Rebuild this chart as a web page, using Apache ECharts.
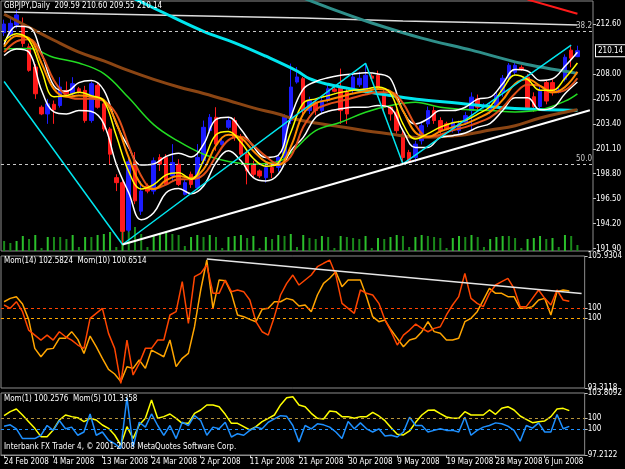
<!DOCTYPE html>
<html><head><meta charset="utf-8">
<script src="https://cdn.jsdelivr.net/npm/echarts@6/dist/echarts.min.js"></script>
<style>html,body{margin:0;padding:0;background:#000;}#c{width:625px;height:469px;}</style>
</head><body><div id="c"></div>
<script>
// ---------- DATA ----------
const dates = ['24 Feb 2008','25 Feb 2008','26 Feb 2008','27 Feb 2008','28 Feb 2008','29 Feb 2008','2 Mar 2008','3 Mar 2008','4 Mar 2008','5 Mar 2008','6 Mar 2008','7 Mar 2008','9 Mar 2008','10 Mar 2008','11 Mar 2008','12 Mar 2008','13 Mar 2008','14 Mar 2008','16 Mar 2008','17 Mar 2008','18 Mar 2008','19 Mar 2008','20 Mar 2008','23 Mar 2008','24 Mar 2008','25 Mar 2008','26 Mar 2008','27 Mar 2008','28 Mar 2008','30 Mar 2008','31 Mar 2008','1 Apr 2008','2 Apr 2008','3 Apr 2008','4 Apr 2008','6 Apr 2008','7 Apr 2008','8 Apr 2008','9 Apr 2008','10 Apr 2008','11 Apr 2008','13 Apr 2008','14 Apr 2008','15 Apr 2008','16 Apr 2008','17 Apr 2008','18 Apr 2008','20 Apr 2008','21 Apr 2008','22 Apr 2008','23 Apr 2008','24 Apr 2008','25 Apr 2008','27 Apr 2008','28 Apr 2008','29 Apr 2008','30 Apr 2008','1 May 2008','2 May 2008','4 May 2008','5 May 2008','6 May 2008','7 May 2008','8 May 2008','9 May 2008','11 May 2008','12 May 2008','13 May 2008','14 May 2008','15 May 2008','16 May 2008','18 May 2008','19 May 2008','20 May 2008','21 May 2008','22 May 2008','23 May 2008','25 May 2008','26 May 2008','27 May 2008','28 May 2008','29 May 2008','30 May 2008','1 Jun 2008','2 Jun 2008','3 Jun 2008','4 Jun 2008','5 Jun 2008','6 Jun 2008','8 Jun 2008','9 Jun 2008','10 Jun 2008','11 Jun 2008'];

// [open, close, low, high]
const ohlc = [
[211.8,212.6,211.5,213.0],[211.58,212.66,211.27,213.28],[212.51,213.44,212.2,213.9],[212.51,210.81,210.5,213.2],[210.5,208.33,208.2,210.8],
[208.64,206.17,205.7,208.9],[204.93,204.31,204.2,205.1],[204.31,205.24,203.4,205.7],[205.2,204.7,203.4,205.55],[205.09,206.79,204.9,207.7],
[206.48,206.17,205.9,207.3],[206.17,207.10,206.0,207.7],[206.63,206.33,206.2,206.8],[206.48,203.70,203.5,206.9],[203.70,207.10,203.5,207.3],
[206.94,204.93,204.8,207.25],[205.24,202.92,202.7,205.4],[202.92,200.60,199.68,203.1],[198.44,197.98,197.2,198.75],[197.98,193.49,192.3,198.2],
[193.6,199.9,193.4,200.3],[199.9,196.3,196.0,200.8],[195.35,197.20,195.0,198.1],[197.67,197.20,197.0,197.9],[197.20,199.99,196.9,200.3],
[200.3,199.68,199.06,200.6],[200.3,197.82,197.8,200.6],[198.6,199.84,198.13,201.53],[199.68,197.82,197.67,200.14],[196.9,197.98,196.8,198.3],
[198.75,197.82,197.5,199.0],[197.51,200.3,197.36,201.53],[200.0,203.08,199.68,203.7],[202.77,204.0,202.5,204.3],[204.0,201.53,200.91,204.93],
[201.5,201.8,201.4,202.0],[203.08,203.70,202.9,204.0],[203.70,202.15,201.84,204.0],[202.15,200.6,200.3,202.46],[200.6,199.06,197.82,200.91],
[199.68,198.75,198.4,200.0],[199.06,198.6,198.4,199.2],[198.44,199.37,197.98,199.68],[199.37,198.9,198.4,199.8],[199.37,200.3,199.0,200.6],
[200.3,204.0,200.0,204.3],[203.7,206.79,203.39,208.95],[207.25,207.72,207.1,208.64],[207.56,204.62,204.3,207.72],[204.62,205.55,204.3,205.9],
[205.4,204.62,204.2,205.7],[204.62,205.55,204.4,205.9],[205.55,206.63,205.4,207.0],[206.6,206.4,206.3,206.8],[206.79,204.62,203.39,208.49],
[206.3,204.31,203.39,206.8],[206.48,207.72,206.2,208.1],[207.0,207.6,206.8,208.2],[206.48,207.87,206.2,209.0],[207.8,207.6,207.4,208.0],
[207.87,206.79,206.5,208.3],[206.17,204.93,204.6,206.5],[204.93,204.31,203.7,205.1],[204.47,202.77,202.5,204.8],[202.46,200.3,199.7,202.77],
[200.76,199.99,199.8,201.0],[200.3,201.53,199.9,201.84],[201.84,203.23,201.5,203.5],[203.39,204.62,203.1,205.0],[204.62,203.7,203.4,205.0],
[203.7,202.77,202.5,204.0],[203.4,202.9,202.8,203.6],[202.92,203.54,202.6,203.9],[202.77,203.39,202.5,203.7],[203.54,204.16,203.3,204.5],
[204.62,205.86,202.77,206.3],[205.7,204.93,204.6,206.1],[205.0,205.1,204.8,205.3],[204.62,205.09,204.3,205.4],[205.1,206.0,204.9,206.3],
[206.3,207.6,205.9,207.9],[207.6,208.8,207.3,209.0],[208.15,208.8,207.9,209.1],[208.6,208.4,208.3,208.8],[207.7,204.9,204.7,208.0],
[205.9,205.0,204.5,206.3],[205.0,206.4,204.8,206.8],[207.2,205.5,205.2,207.4],[207.2,206.3,206.0,207.5],[206.3,206.5,206.2,206.7],
[207.5,209.54,207.3,209.8],[210.19,209.45,208.61,210.65],[209.59,210.14,209.55,210.60]];

const volume = [800,640,800,1200,960,1280,240,1120,1120,1120,960,1280,320,1120,1120,1280,1360,1520,320,2400,2240,1920,1360,320,1280,1360,1520,1360,1280,400,1120,1280,1120,1280,1120,240,1120,1200,1280,1040,1200,240,1120,960,1280,1200,1360,320,1280,1040,960,1200,1120,240,1200,1120,1040,960,1200,240,1040,960,1120,1280,1200,320,1120,1280,1200,1120,1040,240,1040,1200,1120,1280,1120,320,960,1120,1200,1200,1040,240,960,1040,1200,960,1040,320,1280,1200,480];

// moving averages / bands: [bar index, price]
const maYellow = [[0,211.0],[2,211.7],[4,211.1],[6,208.3],[8,205.9],[10,206.0],[12,206.3],[14,206.0],[16,205.5],[18,202.3],[20,199.0],[22,197.4],[24,197.8],[26,198.7],[28,198.9],[30,198.3],[32,200.0],[34,202.4],[36,202.7],[38,201.7],[40,200.2],[42,199.5],[44,199.8],[46,202.6],[48,205.3],[50,205.7],[52,206.0],[54,206.3],[56,206.5],[58,206.6],[60,206.8],[62,206.2],[64,203.4],[66,202.0],[68,202.5],[70,203.1],[72,203.5],[74,203.7],[76,204.3],[78,205.0],[80,206.6],[82,207.9],[84,207.5],[86,206.5],[88,206.5],[90,207.6],[92,209.0]];
const maOrange = [[0,210.5],[2,211.5],[4,211.3],[6,209.0],[8,206.6],[10,205.9],[12,206.0],[14,205.9],[16,205.6],[18,203.5],[20,200.3],[22,197.8],[24,197.4],[26,198.2],[28,198.6],[30,198.4],[32,199.2],[34,201.4],[36,202.4],[38,202.1],[40,200.9],[42,199.9],[44,199.6],[46,201.3],[48,204.3],[50,205.3],[52,205.6],[54,205.9],[56,206.2],[58,206.4],[60,206.6],[62,206.4],[64,204.6],[66,202.6],[68,202.2],[70,202.7],[72,203.1],[74,203.4],[76,203.9],[78,204.5],[80,205.6],[82,207.1],[84,207.5],[86,206.9],[88,206.3],[90,206.8],[92,208.2]];
const maRed = [[0,210.0],[2,211.0],[4,211.2],[6,209.8],[8,207.4],[10,206.0],[12,205.7],[14,205.7],[16,205.5],[18,204.3],[20,201.4],[22,198.6],[24,197.4],[26,197.8],[28,198.3],[30,198.3],[32,198.7],[34,200.4],[36,201.9],[38,202.2],[40,201.4],[42,200.4],[44,199.7],[46,200.4],[48,203.1],[50,204.7],[52,205.2],[54,205.5],[56,205.8],[58,206.1],[60,206.3],[62,206.3],[64,205.3],[66,203.3],[68,202.2],[70,202.4],[72,202.8],[74,203.1],[76,203.5],[78,204.0],[80,204.9],[82,206.2],[84,207.0],[86,206.9],[88,206.3],[90,206.5],[92,207.6]];
const bandUpper = [[0,210.7],[2,212.4],[4,212.3],[6,209.9],[8,206.9],[10,206.4],[12,207.2],[14,207.4],[16,206.5],[18,203.4],[20,201.2],[22,199.6],[24,199.7],[26,200.4],[28,200.7],[30,200.35],[32,201.5],[34,203.8],[36,204.0],[38,202.9],[40,201.3],[42,200.3],[44,200.5],[46,204.0],[48,206.6],[50,207.3],[52,207.65],[54,207.87],[56,208.0],[58,208.1],[60,208.0],[62,207.56],[64,204.6],[66,203.39],[68,203.85],[70,204.62],[72,204.62],[74,204.93],[76,205.68],[78,205.86],[80,207.1],[82,208.4],[84,208.27],[86,207.4],[88,207.56],[90,208.7],[92,210.0]];
const bandLower = [[0,209.7],[2,210.3],[4,210.0],[6,206.5],[8,204.5],[10,204.31],[12,204.62],[14,204.53],[16,203.39],[18,199.68],[20,197.05],[22,194.57],[24,195.2],[26,197.05],[28,197.45],[30,196.96],[32,197.67],[34,199.83],[36,200.91],[38,199.99],[40,198.44],[42,198.13],[44,198.75],[46,200.91],[48,202.15],[50,204.01],[52,204.56],[54,204.78],[56,204.93],[58,204.93],[60,205.09],[62,204.87],[64,202.77],[66,201.22],[68,201.22],[70,202.15],[72,202.31],[74,202.55],[76,203.08],[78,203.45],[80,204.62],[82,205.8],[84,205.8],[86,204.69],[88,204.87],[90,206.17],[92,207.25]];
const maGreen = [[0,210.3],[4,210.34],[8,209.51],[12,209.0],[16,208.03],[20,205.8],[24,203.33],[28,201.78],[32,200.6],[36,199.92],[40,199.68],[44,199.92],[46,200.7],[50,202.77],[54,203.54],[58,204.47],[62,205.09],[66,205.40],[70,204.93],[74,204.72],[78,204.62],[82,204.5],[86,204.69],[90,205.49],[92,206.17]];
const maBrown = [[0,213.5],[4,212.3],[8,211.1],[12,210.0],[16,209.2],[20,208.3],[24,207.5],[28,206.8],[32,206.2],[36,205.55],[40,204.87],[44,204.31],[46,203.94],[50,203.48],[54,203.14],[58,202.77],[62,202.46],[66,202.15],[70,202.21],[74,202.4],[78,202.83],[82,203.23],[86,203.94],[90,204.47],[92,204.69]];
const maCyan = [[20,215.2],[25,213.8],[32,211.92],[37,210.87],[42,209.63],[47,208.27],[49,207.56],[52,207.04],[57,206.48],[62,206.02],[67,205.61],[73,205.30],[78,204.99],[83,204.78],[92,204.62]];
const maTeal = [[48,215.0],[53,213.9],[59,212.69],[67,211.3],[75,210.19],[83,208.98],[92,208.05]];
const maTopWhite = [[0,213.7],[16,213.53],[32,213.34],[48,213.16],[64,212.88],[80,212.69],[92,212.5]];
const maTopRed = [[84,214.85],[92,213.55]];
const zigzag = [[0,207.3],[19,192.28],[58,208.98],[64,199.7],[91,210.65]];
const supportLine = [[19,192.28],[94,204.65]];
const fibLevels = [211.95, 199.70];
const fibLabels = ['38.2', '50.0'];
const lastClose = 210.14;
const priceTicks = [191.90,194.20,196.50,198.80,201.10,203.40,205.70,208.00,212.60];

const mom14 = [101.56,101.88,102.04,101.34,99.87,97.10,96.30,97.01,97.10,98.06,98.06,98.70,97.96,96.62,98.28,97.26,96.15,95.09,94.65,93.92,95.35,95.19,95.99,95.19,96.94,96.62,96.30,97.90,95.35,96.15,96.62,99.17,102.68,105.55,100.93,103.64,103.57,102.36,100.29,100.13,99.87,99.65,100.83,100.93,101.56,101.56,101.88,101.72,101.15,101.25,100.61,102.20,103.32,103.80,104.43,103.00,103.64,103.64,103.64,102.04,100.13,99.65,99.81,98.85,98.06,97.26,97.90,98.06,98.70,99.65,98.70,98.54,97.90,97.90,98.06,99.65,99.97,100.61,101.72,102.84,102.36,102.36,102.04,102.04,100.93,100.93,101.09,101.72,101.88,100.29,102.52,102.68,102.58];
const mom10 = [100.29,99.97,100.61,99.65,97.88,97.40,96.92,97.40,96.92,97.72,97.24,96.92,96.44,96.12,99.01,99.49,99.97,97.56,96.12,92.76,96.92,93.56,94.68,96.12,96.12,96.92,96.92,99.33,99.65,102.53,98.53,103.01,103.33,104.13,101.41,101.41,102.69,101.57,101.73,101.57,100.77,98.69,97.72,97.40,99.17,101.25,102.37,103.17,102.21,102.69,103.17,103.97,104.30,104.61,103.17,100.45,99.97,99.49,101.73,101.41,101.25,100.45,98.85,97.72,96.44,97.40,97.88,98.46,98.04,97.72,98.04,98.20,99.33,100.29,101.09,103.33,100.93,100.45,100.13,101.41,102.21,102.53,102.85,101.89,100.13,100.13,100.93,101.73,100.93,100.29,101.73,100.77,100.65];
const mom14Trend = [[33,105.64],[94,102.34]];
const mom1 = [100.28,100.42,100.0,98.96,98.96,98.96,99.31,100.35,99.83,100.88,100.0,100.18,99.31,99.66,101.58,99.31,99.66,98.78,98.43,97.91,103.32,98.08,100.7,100.18,101.58,100.35,99.31,100.35,98.96,100.7,100.35,101.40,100.88,99.31,100.18,100.0,100.7,99.13,99.48,99.31,99.83,100.18,100.0,100.7,101.05,101.40,101.33,100.35,98.61,100.35,100.0,100.53,100.42,100.18,99.66,98.96,100.77,100.0,100.63,100.0,99.66,100.0,99.24,99.31,99.13,99.66,101.23,100.35,100.35,99.66,99.83,100.0,99.83,99.83,99.66,101.23,99.31,99.83,100.18,100.35,100.63,100.53,100.28,99.83,98.68,100.35,100.07,100.63,99.66,99.66,101.51,100.0,100.26];
const mom5 = [100.43,101.15,101.64,100.55,99.34,98.12,96.61,96.61,97.82,99.64,100.55,100.25,100.06,99.34,99.94,99.64,98.73,98.12,96.91,95.09,98.43,96.30,98.73,99.94,103.28,99.94,100.25,100.73,99.94,99.03,99.03,100.85,101.46,102.37,102.37,102.06,100.67,99.03,99.03,98.43,97.82,98.43,99.34,99.94,100.55,102.37,103.70,103.88,102.37,102.06,100.85,99.94,99.82,101.28,101.15,100.25,100.25,99.94,100.25,100.25,101.03,100.37,99.52,98.24,97.03,96.91,97.64,99.21,100.55,101.40,101.46,100.79,100.19,99.94,99.94,101.15,100.55,100.55,100.55,101.46,100.67,101.76,102.06,101.46,100.37,99.76,99.15,99.34,99.46,100.25,101.64,101.76,101.34];

const headerMain = 'GBPJPY,Daily  209.59 210.60 209.55 210.14';
const headerMom = 'Mom(14) 102.5824  Mom(10) 100.6514';
const headerMom2 = 'Mom(1) 100.2576  Mom(5) 101.3358';
const footer = 'Interbank FX Trader 4, \u00a9 2001-2008 MetaQuotes Software Corp.';

// ---------- CHART ----------
const FONT = "'Liberation Sans Narrow','DejaVu Sans Condensed','Arial Narrow','Liberation Sans',sans-serif";
const txt = {color:'#ffffff', fontSize:8, fontFamily:FONT, fontWeight:'normal'};
const cats = dates.concat(['','']);
const chart = echarts.init(document.getElementById('c'), null, {renderer:'canvas'});

function ln(data, color, width, xi, yi, extra) {
  return Object.assign({type:'line', xAxisIndex:xi, yAxisIndex:yi, data:data, symbol:'none', silent:true,
    lineStyle:{color:color, width:width}, itemStyle:{color:color}, z:3}, extra || {});
}
function yax(grid, min, max, ticks, fmt, extra) {
  return Object.assign({type:'value', gridIndex:grid, position:'right', min:min, max:max, scale:true,
    splitLine:{show:false}, axisLine:{show:false},
    axisTick:{show:true, customValues:ticks, length:3, lineStyle:{color:'#c0c0c0'}},
    axisLabel:{show:true, customValues:ticks, formatter:fmt, margin:3, color:'#fff', fontSize:8, fontFamily:FONT}}, extra || {});
}
const hundred = (c) => ({symbol:'none', silent:true, label:{show:false},
  lineStyle:{color:c, type:[3,3], width:1}, data:[{yAxis:100}]});

const option = {
  backgroundColor:'#000',
  animation:false,
  title:[
    {text:headerMain, left:4, top:2, padding:0, textStyle:txt},
    {text:headerMom, left:4, top:257, padding:0, textStyle:txt},
    {text:headerMom2, left:4, top:395, padding:0, textStyle:txt},
    {text:footer, left:4, top:443, padding:0, textStyle:txt}
  ],
  grid:[
    {left:1, right:32, top:1, height:250, show:true, borderColor:'#8c8c8c', borderWidth:1, backgroundColor:'#000'},
    {left:1, right:32, top:256, height:132, show:true, borderColor:'#8c8c8c', borderWidth:1, backgroundColor:'#000'},
    {left:1, right:32, top:393, height:62, show:true, borderColor:'#8c8c8c', borderWidth:1, backgroundColor:'#000'}
  ],
  xAxis:[0,1,2].map(g => ({
    type:'category', gridIndex:g, data:cats, boundaryGap:true,
    axisLine:{show:g===2, lineStyle:{color:'#8c8c8c'}},
    axisTick:{show:g===2, alignWithLabel:true, interval:(i)=> i%8===0 && i<dates.length, length:3, lineStyle:{color:'#c0c0c0'}},
    axisLabel:{show:g===2, interval:(i)=> i%8===0 && i<dates.length, align:'left', margin:3, color:'#fff', fontSize:8, fontFamily:FONT},
    splitLine:{show:false}
  })),
  yAxis:[
    yax(0, 191.68, 214.72, priceTicks, v => v.toFixed(2)),
    {type:'value', gridIndex:0, min:0, max:20000, show:false, splitLine:{show:false}},
    yax(1, 93.3118, 105.9304, [93.3118,100,105.9304], v => v===100 ? '100' : v.toFixed(4)),
    yax(1, 92.31, 105.0, [100], v => '100'),
    yax(2, 97.2122, 103.8092, [97.2122,100,103.8092], v => v===100 ? '100' : v.toFixed(4)),
    yax(2, 93.27, 104.55, [100], v => '100')
  ],
  series:[
    {type:'bar', name:'Volumes', xAxisIndex:0, yAxisIndex:1, data:volume, barWidth:2, silent:true, z:1,
      itemStyle:{color:(p)=> (p.dataIndex>0 && volume[p.dataIndex] > volume[p.dataIndex-1]) ? '#2bbf2b' : '#1a8a1a'}},
    {type:'candlestick', name:'GBPJPY', xAxisIndex:0, yAxisIndex:0, data:ohlc, barWidth:4, silent:true, z:2,
      itemStyle:{color:'#1c1cff', color0:'#ff1a1a', borderColor:'#1c1cff', borderColor0:'#ff1a1a', borderWidth:1},
      markLine:{symbol:'none', silent:true, z:5, data:[
        {yAxis:fibLevels[0], lineStyle:{color:'#c8c8c8', type:[3,3], width:1},
          label:{show:true, position:'insideEndTop', distance:[1,1], formatter:fibLabels[0], color:'#c8c8c8', fontSize:8, fontFamily:FONT}},
        {yAxis:fibLevels[1], lineStyle:{color:'#c8c8c8', type:[3,3], width:1},
          label:{show:true, position:'insideEndTop', distance:[1,1], formatter:fibLabels[1], color:'#c8c8c8', fontSize:8, fontFamily:FONT}},
        {yAxis:lastClose, lineStyle:{color:'rgba(0,0,0,0)', width:1, type:'solid'},
          label:{show:true, position:'end', distance:3, formatter:lastClose.toFixed(2), color:'#ffffff', fontSize:8, fontFamily:FONT,
            backgroundColor:'#000000', borderColor:'#ffffff', borderWidth:1, padding:[2,2,1,2]}}
      ]}},
    ln(maTopWhite, '#dcdcdc', 1.5, 0, 0),
    ln(maTopRed, '#ff1a1a', 2, 0, 0),
    ln(maTeal, '#2f8f8a', 3, 0, 0, {smooth:0.3}),
    ln(maCyan, '#00e5ee', 3, 0, 0, {smooth:0.4}),
    ln(maBrown, '#8b4513', 3, 0, 0, {smooth:0.4}),
    ln(maGreen, '#22dd22', 1.5, 0, 0, {smooth:0.4}),
    ln(bandUpper, '#ffffff', 1.5, 0, 0, {smooth:0.4}),
    ln(bandLower, '#ffffff', 1.5, 0, 0, {smooth:0.4}),
    ln(maRed, '#e0501a', 2, 0, 0, {smooth:0.4}),
    ln(maOrange, '#ff8c00', 2, 0, 0, {smooth:0.4}),
    ln(maYellow, '#ffff00', 1.5, 0, 0, {smooth:0.4}),
    ln(zigzag, '#00e5ee', 1.5, 0, 0),
    ln(supportLine, '#ffffff', 2, 0, 0),
    ln(mom14, '#ffa500', 1.5, 1, 2, {markLine:hundred('#ffa500')}),
    ln(mom10, '#ff4500', 1.5, 1, 3, {markLine:hundred('#ff4500')}),
    ln(mom14Trend, '#e6e6e6', 1.5, 1, 2),
    ln(mom5, '#ffff00', 1.5, 2, 5, {markLine:hundred('#b8943a')}),
    ln(mom1, '#1e90ff', 1.5, 2, 4, {markLine:hundred('#1e90ff')})
  ]
};
chart.setOption(option);
</script>
</body></html>
